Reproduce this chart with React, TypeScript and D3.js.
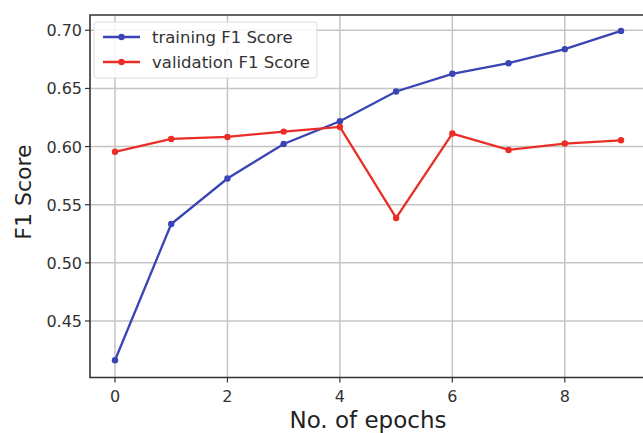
import React, { useEffect, useRef } from 'react'
import { select, scaleLinear, line } from 'd3'

const epochs = [0, 1, 2, 3, 4, 5, 6, 7, 8, 9]
const trainingF1 = [0.4162, 0.5334, 0.5725, 0.6023, 0.6218, 0.6474, 0.6626, 0.6717, 0.6838, 0.6995]
const validationF1 = [0.5955, 0.6066, 0.6083, 0.6129, 0.6169, 0.5386, 0.6112, 0.5971, 0.6026, 0.6054]
const xTicks = [0, 2, 4, 6, 8]
const yTicks = [0.45, 0.5, 0.55, 0.6, 0.65, 0.7]
const seriesNames = ['training F1 Score', 'validation F1 Score']

export default function App() {
  const ref = useRef<SVGSVGElement>(null)

  const W = 643, H = 433
  const margin = { top: 15, right: -40, bottom: 56, left: 90 }

  useEffect(() => {
    const svg = select(ref.current)
    svg.selectAll('*').remove()
    const font = 'DejaVu Sans, sans-serif'

    const x = scaleLinear().domain([0, 9]).range([115, 621])
    const y = scaleLinear().domain([0.45, 0.7]).range([321, 30.3])

    const left = margin.left, top = margin.top, bottom = H - margin.bottom + 0.5, right = W + 5

    const g = svg.append('g')

    // grid
    g.selectAll('.vg').data(xTicks).join('line')
      .attr('x1', d => x(d)).attr('x2', d => x(d))
      .attr('y1', top).attr('y2', bottom)
      .attr('stroke', '#c4c4c4').attr('stroke-width', 1.5)
    g.selectAll('.hg').data(yTicks).join('line')
      .attr('x1', left).attr('x2', right)
      .attr('y1', d => y(d)).attr('y2', d => y(d))
      .attr('stroke', '#c4c4c4').attr('stroke-width', 1.5)

    // spines
    g.append('path')
      .attr('d', `M${right},${top}H${left}V${bottom}H${right}`)
      .attr('fill', 'none').attr('stroke', '#333').attr('stroke-width', 1.6)

    // ticks
    g.selectAll('.xt').data(xTicks).join('line')
      .attr('x1', d => x(d)).attr('x2', d => x(d))
      .attr('y1', bottom).attr('y2', bottom + 5)
      .attr('stroke', '#333').attr('stroke-width', 1.2)
    g.selectAll('.xl').data(xTicks).join('text')
      .attr('x', d => x(d)).attr('y', bottom + 24)
      .attr('text-anchor', 'middle').attr('font-family', font).attr('font-size', 16)
      .attr('fill', '#333').text(d => d)
    g.selectAll('.yt').data(yTicks).join('line')
      .attr('x1', left - 5).attr('x2', left)
      .attr('y1', d => y(d)).attr('y2', d => y(d))
      .attr('stroke', '#333').attr('stroke-width', 1.2)
    g.selectAll('.yl').data(yTicks).join('text')
      .attr('x', left - 8).attr('y', d => y(d) + 6)
      .attr('text-anchor', 'end').attr('font-family', font).attr('font-size', 16)
      .attr('fill', '#333').text(d => d.toFixed(2))

    // axis titles
    g.append('text').attr('x', 368).attr('y', 428)
      .attr('text-anchor', 'middle').attr('font-family', font).attr('font-size', 23)
      .attr('fill', '#222').text('No. of epochs')
    g.append('text').attr('transform', `translate(31,192) rotate(-90)`)
      .attr('text-anchor', 'middle').attr('font-family', font).attr('font-size', 22)
      .attr('fill', '#222').text('F1 Score')

    const colors = ['#3a44b4', '#ea2e27']
    const series = [trainingF1, validationF1]
    const ln = line<number>().x((_, i) => x(epochs[i])).y(d => y(d))

    series.forEach((s, k) => {
      g.append('path').attr('d', ln(s)!).attr('fill', 'none')
        .attr('stroke', colors[k]).attr('stroke-width', 2.3)
      g.selectAll(`.pt${k}`).data(s).join('circle')
        .attr('cx', (_, i) => x(epochs[i])).attr('cy', d => y(d))
        .attr('r', 3.2).attr('fill', colors[k])
    })

    // legend
    const lg = g.append('g')
    lg.append('rect').attr('x', 94).attr('y', 22).attr('width', 223).attr('height', 56)
      .attr('rx', 3).attr('fill', 'white').attr('fill-opacity', 0.85)
      .attr('stroke', '#dddddd').attr('stroke-width', 1)
    seriesNames.forEach((name, k) => {
      const yy = 37 + k * 25
      lg.append('line').attr('x1', 103).attr('x2', 140).attr('y1', yy).attr('y2', yy)
        .attr('stroke', colors[k]).attr('stroke-width', 2.3)
      lg.append('circle').attr('cx', 121.5).attr('cy', yy).attr('r', 3.2).attr('fill', colors[k])
      lg.append('text').attr('x', 152).attr('y', yy + 6)
        .attr('font-family', font).attr('font-size', 16.5).attr('fill', '#333').text(name)
    })
  }, [])

  return (
    <svg ref={ref} width={W} height={H}
      style={{ position: 'absolute', left: 0, top: 0, background: 'white' }} />
  )
}
